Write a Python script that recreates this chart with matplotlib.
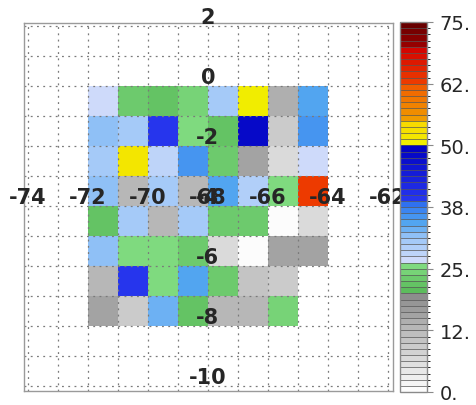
#!/usr/bin/env python3
"""
Gridded field over a small lon/lat box with an IDL-style banded colour bar.
"""

import numpy as np
import matplotlib
matplotlib.use('Agg')
import matplotlib.pyplot as plt
from matplotlib.colors import LinearSegmentedColormap, ListedColormap, BoundaryNorm

# Cell edges (degrees)
lon_edges = [-72, -71, -70, -69, -68, -67, -66, -65, -64]
lat_edges = [0, -1, -2, -3, -4, -5, -6, -7, -8]

# Cell values, rows from lat 0 down to lat -8, columns from lon -72 to -64
values = [
    [27.0, 23.5, 22.0, 24.5, 30.5, 51.0, 14.0, 34.0],
    [31.5, 30.5, 39.5, 25.0, 21.5, 48.0, 9.0, 35.5],
    [30.0, 51.5, 28.5, 35.5, 22.5, 15.5, 7.0, 27.0],
    [31.5, 13.5, 30.0, 13.5, 34.0, 29.0, 25.0, 63.0],
    [21.5, 30.5, 13.0, 30.5, 23.0, 23.0, 0.5, 7.0],
    [31.5, 25.0, 25.0, 23.5, 7.0, 0.5, 15.5, 15.5],
    [13.0, 39.0, 25.0, 34.0, 23.0, 10.0, 9.5, np.nan],
    [15.0, 9.0, 33.5, 21.5, 13.0, 13.0, 24.0, np.nan],
]

lon_ticks = [-74, -72, -70, -68, -66, -64, -62]
lat_ticks = [2, 0, -2, -4, -6, -8, -10]
cbar_ticks = [0, 12.5, 25, 37.5, 50, 62.5, 75]
cbar_labels = ['0.', '12.', '25.', '38.', '50.', '62.', '75.']

# Colour table anchors (value, colour); repeated values give hard steps
vmax = 75.0
anchors = [
    (0, '#ffffff'), (15, '#acacac'),
    (15, '#a6a6a6'), (20, '#8a8a8a'),
    (20, '#58b858'), (26.25, '#84de84'),
    (26.25, '#d4dcfa'), (31, '#a0c8f8'), (34.5, '#50a4f0'), (38.75, '#2a6af0'),
    (38.75, '#2838f0'), (50, '#0000c0'),
    (50, '#f0f000'), (55, '#f8d800'),
    (55, '#f0a000'), (62.5, '#f05a00'),
    (62.5, '#f04000'), (70, '#d00000'),
    (70, '#a00000'), (75, '#600000'),
]


def main():
    smooth = LinearSegmentedColormap.from_list(
        'tbl', [(v / vmax, c) for v, c in anchors])
    n_levels = 60
    bounds = np.linspace(0, vmax, n_levels + 1)
    mids = (bounds[:-1] + bounds[1:]) / 2 / vmax
    cmap = ListedColormap(smooth(mids))
    norm = BoundaryNorm(bounds, cmap.N)

    fig = plt.figure(figsize=(4.76, 4.06), dpi=100)
    ax = fig.add_axes([24 / 476, 14 / 406, 369 / 476, 368 / 406])

    data = np.ma.masked_invalid(np.array(values))
    mesh = ax.pcolormesh(lon_edges, lat_edges, data, cmap=cmap, norm=norm,
                         zorder=1)

    ax.set_xlim(-74.13, -61.83)
    ax.set_ylim(-10.17, 2.1)

    # dotted graticule every degree, drawn over the cells
    for lon in range(-74, -61):
        ax.axvline(lon, color='#7a7a7a', linewidth=0.9,
                   linestyle=(0, (1.5, 3.5)), zorder=2)
    for lat in range(-10, 3):
        ax.axhline(lat, color='#7a7a7a', linewidth=0.9,
                   linestyle=(0, (1.5, 3.5)), zorder=2)

    ax.set_xticks([])
    ax.set_yticks([])
    for sp in ax.spines.values():
        sp.set_color('#9a9a9a')
        sp.set_linewidth(1.0)

    # map-style labels inside the plot (the -4 sits under -68, as in the map)
    txt = dict(fontsize=15, fontweight='bold', color='#262626',
               va='bottom', ha='center', clip_on=False, zorder=4)
    for lon in lon_ticks:
        ax.text(lon, -4.05, str(lon), **txt)
    for lat in lat_ticks:
        ax.text(-68, lat - 0.05, str(lat), **txt)

    # colour bar
    cax = fig.add_axes([400 / 476, 13 / 406, 27 / 476, 370 / 406])
    cb = fig.colorbar(mesh, cax=cax, ticks=cbar_ticks, drawedges=True)
    cb.set_ticklabels(cbar_labels)
    cb.dividers.set_color('#555555')
    cb.dividers.set_linewidth(0.5)
    cb.outline.set_edgecolor('#8a8a8a')
    cb.outline.set_linewidth(1.0)
    cax.tick_params(length=4, width=0.8, color='#8a8a8a', labelsize=14,
                    labelcolor='#262626', pad=5)

    fig.savefig('out.png', dpi=100)


if __name__ == '__main__':
    main()
